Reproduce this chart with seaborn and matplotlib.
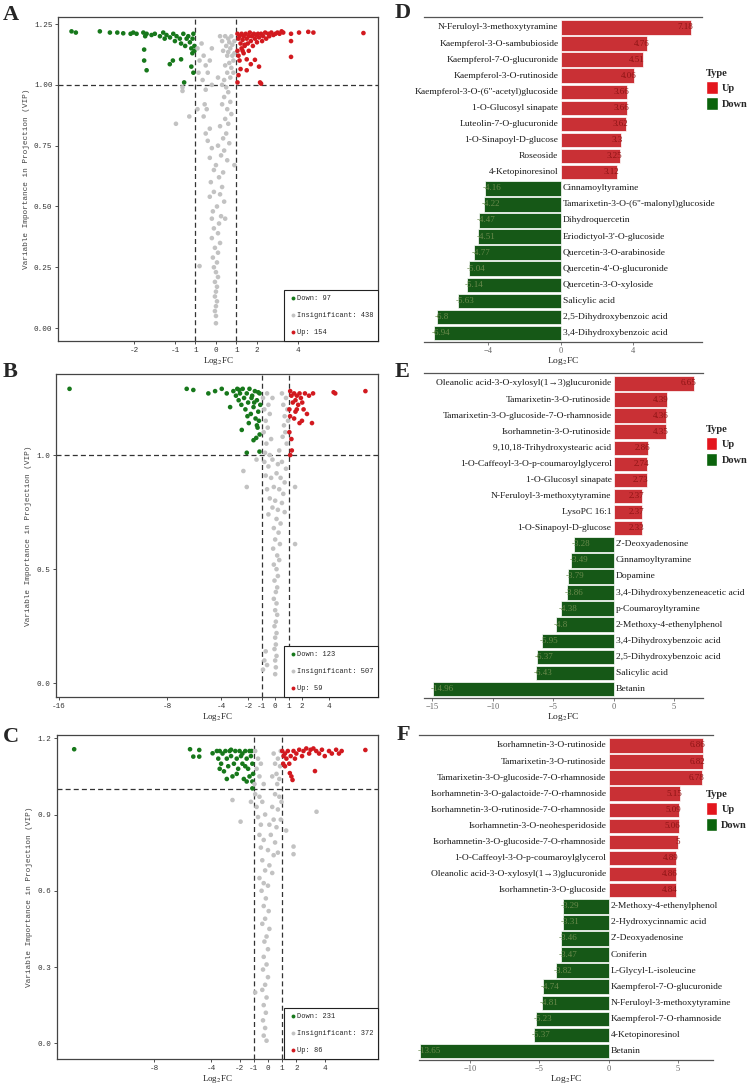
import numpy as np
import pandas as pd
import seaborn as sns
import matplotlib.pyplot as plt
from matplotlib.lines import Line2D
from matplotlib.patches import Patch

# ---------------- volcano data (log2FC, VIP) ----------------
a_down = [(-7.04, 1.22), (-6.83, 1.215), (-5.66, 1.22), (-5.17, 1.215), (-4.81, 1.215), (-4.52, 1.212),
          (-4.16, 1.21), (-4.03, 1.215), (-3.87, 1.21), (-3.54, 1.215), (-3.45, 1.2), (-3.38, 1.21),
          (-3.14, 1.205), (-2.98, 1.21), (-2.73, 1.2), (-2.57, 1.215), (-2.5, 1.19), (-2.41, 1.205),
          (-2.24, 1.195), (-2.08, 1.21), (-2.0, 1.18), (-1.92, 1.2), (-1.76, 1.19), (-1.7, 1.17),
          (-1.59, 1.21), (-1.5, 1.16), (-1.43, 1.19), (-1.35, 1.2), (-1.27, 1.175), (-1.2, 1.15),
          (-1.14, 1.19), (-1.1, 1.21), (-1.05, 1.16), (-3.5, 1.145), (-3.5, 1.1), (-3.38, 1.06),
          (-2.25, 1.085), (-2.1, 1.10), (-1.7, 1.105), (-1.2, 1.075), (-1.1, 1.05), (-1.55, 1.01),
          (-1.05, 1.14), (-1.15, 1.13)]
a_insig = [(-0.9, 1.15), (-0.8, 1.1), (-0.85, 1.05), (-0.7, 1.17), (-0.6, 1.12), (-0.5, 1.08), (-0.65, 1.02),
           (-0.4, 1.05), (-0.3, 1.1), (-0.2, 1.15), (0.2, 1.2), (0.3, 1.18), (0.35, 1.14), (0.45, 1.2),
           (0.5, 1.16), (0.55, 1.12), (0.6, 1.19), (0.65, 1.09), (0.7, 1.15), (0.75, 1.2), (0.8, 1.12),
           (0.85, 1.05), (0.9, 1.18), (0.55, 1.05), (0.45, 1.08), (0.7, 1.03), (0.8, 1.165), (0.6, 1.135),
           (0.85, 1.1), (0.4, 1.02), (0.75, 1.07), (0.9, 1.13), (0.65, 1.175), (-0.2, 1.0), (0.1, 1.03),
           (0.3, 1.0), (0.5, 0.99), (-0.5, 0.98), (-1.63, 0.99), (-1.63, 0.975),
           (0.6, 0.97), (0.4, 0.95), (0.7, 0.93), (0.3, 0.92), (0.55, 0.9), (-0.55, 0.92), (-0.45, 0.9),
           (-0.6, 0.87), (0.75, 0.88), (0.45, 0.86), (0.6, 0.84), (0.2, 0.83), (-0.3, 0.82), (-0.5, 0.8),
           (0.5, 0.8), (0.35, 0.78), (-0.4, 0.77), (0.65, 0.76), (0.1, 0.75), (-0.2, 0.74), (0.4, 0.73),
           (0.9, 0.67), (0.25, 0.71), (-0.3, 0.7), (0.55, 0.69), (0.0, 0.67), (-0.1, 0.65), (0.35, 0.64),
           (0.15, 0.62), (-0.25, 0.6), (0.3, 0.58), (-0.1, 0.56), (0.2, 0.55), (-0.3, 0.54), (0.4, 0.52),
           (0.05, 0.5), (-0.15, 0.48), (0.25, 0.46), (-0.2, 0.45), (0.15, 0.43), (0.45, 0.45), (-0.1, 0.41),
           (0.1, 0.39), (-0.2, 0.37), (0.2, 0.35), (-0.05, 0.33), (0.1, 0.31), (-0.15, 0.29), (0.05, 0.27),
           (-0.1, 0.25), (0.0, 0.23), (0.1, 0.21), (-0.05, 0.19), (0.05, 0.17), (0.0, 0.15), (-0.05, 0.13),
           (0.05, 0.11), (0.0, 0.09), (-0.05, 0.07), (0.0, 0.05), (0.0, 0.02), (-0.8, 0.255), (-1.95, 0.84),
           (-1.3, 0.87), (-0.9, 0.9)]
a_up = [(1.05, 1.21), (1.1, 1.19), (1.15, 1.2), (1.2, 1.17), (1.25, 1.21), (1.3, 1.185), (1.35, 1.2),
        (1.4, 1.16), (1.45, 1.21), (1.5, 1.19), (1.55, 1.17), (1.6, 1.2), (1.65, 1.215), (1.7, 1.18),
        (1.75, 1.2), (1.8, 1.16), (1.85, 1.21), (1.9, 1.19), (1.95, 1.205), (2.0, 1.175), (2.05, 1.21),
        (2.1, 1.195), (2.2, 1.21), (2.25, 1.18), (2.3, 1.2), (2.4, 1.215), (2.45, 1.19), (2.55, 1.21),
        (2.6, 1.2), (2.7, 1.215), (2.8, 1.205), (2.9, 1.21), (3.0, 1.215), (3.1, 1.21), (3.2, 1.22),
        (3.28, 1.215), (3.66, 1.21), (4.05, 1.215), (4.5, 1.218), (4.75, 1.215), (7.19, 1.213),
        (3.66, 1.18), (3.66, 1.115), (1.05, 1.14), (1.1, 1.12), (1.15, 1.10), (1.25, 1.15), (1.35, 1.13),
        (1.5, 1.105), (1.6, 1.14), (1.9, 1.103), (1.7, 1.085), (1.5, 1.06), (1.2, 1.065), (1.1, 1.04),
        (2.1, 1.075), (1.05, 1.01), (2.15, 1.01), (2.2, 1.005), (1.4, 1.165), (1.3, 1.14)]

b_down = [(-15.2, 1.29), (-6.54, 1.29), (-6.05, 1.285), (-4.94, 1.27), (-4.44, 1.28), (-3.95, 1.29),
          (-3.58, 1.27), (-3.33, 1.21), (-3.09, 1.28), (-2.9, 1.26), (-2.8, 1.29), (-2.7, 1.24), (-2.6, 1.27),
          (-2.5, 1.22), (-2.4, 1.29), (-2.3, 1.25), (-2.2, 1.2), (-2.1, 1.27), (-2.0, 1.23), (-1.9, 1.29),
          (-1.8, 1.18), (-1.75, 1.25), (-1.6, 1.21), (-1.5, 1.28), (-1.45, 1.16), (-1.35, 1.24), (-1.25, 1.19),
          (-1.15, 1.27), (-1.1, 1.22), (-1.2, 1.15), (-1.3, 1.12), (-1.15, 1.09), (-1.7, 1.26), (-2.05, 1.17),
          (-1.95, 1.14), (-2.47, 1.11), (-2.1, 1.01), (-1.6, 1.065), (-1.4, 1.075), (-1.16, 1.015),
          (-1.35, 1.13), (-1.55, 1.23), (-2.65, 1.285), (-1.25, 1.275)]
b_insig = [(-0.9, 1.25), (-0.8, 1.2), (-0.7, 1.15), (-0.85, 1.1), (-0.6, 1.27), (-0.5, 1.22), (-0.55, 1.12),
           (-0.4, 1.18), (-0.3, 1.07), (-0.2, 1.25), (0.5, 1.27), (0.6, 1.22), (0.7, 1.17), (0.8, 1.25),
           (0.9, 1.2), (0.75, 1.1), (0.85, 1.05), (0.65, 1.13), (0.55, 1.08), (0.95, 1.15), (-0.65, 1.05),
           (-0.75, 1.01), (0.3, 1.02), (-0.4, 1.0),
           (-0.8, 0.97), (-0.5, 0.95), (-0.2, 0.98), (0.2, 0.96), (0.5, 0.97), (0.8, 0.94), (-0.7, 0.91),
           (-0.3, 0.9), (0.1, 0.92), (0.4, 0.9), (0.7, 0.88), (-0.6, 0.85), (-0.1, 0.86), (0.3, 0.85),
           (0.6, 0.83), (-0.4, 0.81), (0.0, 0.8), (0.5, 0.79), (-0.2, 0.77), (0.2, 0.76), (0.7, 0.75),
           (-0.5, 0.74), (0.1, 0.72), (0.4, 0.7), (-0.1, 0.68), (0.25, 0.66), (0.0, 0.63), (0.35, 0.61),
           (-0.15, 0.59), (0.15, 0.56), (0.3, 0.54), (-0.1, 0.52), (0.1, 0.5), (0.2, 0.47), (-0.05, 0.45),
           (0.15, 0.42), (0.05, 0.4), (-0.1, 0.37), (0.1, 0.35), (0.0, 0.32), (0.15, 0.3), (0.05, 0.27),
           (-0.05, 0.25), (0.1, 0.22), (0.0, 0.2), (0.05, 0.17), (-0.05, 0.15), (0.1, 0.12), (0.0, 0.1),
           (0.05, 0.07), (0.0, 0.04), (-0.7, 0.14), (-0.8, 0.1), (-0.6, 0.08), (-0.9, 0.06),
           (-2.35, 0.93), (-2.1, 0.86), (1.47, 0.86), (1.47, 0.61), (-1.38, 0.98)]
b_up = [(1.11, 1.28), (1.2, 1.26), (1.3, 1.23), (1.4, 1.27), (1.5, 1.24), (1.6, 1.26), (1.7, 1.22),
        (1.8, 1.27), (1.9, 1.25), (2.0, 1.23), (2.2, 1.27), (2.5, 1.26), (2.8, 1.27), (4.32, 1.275),
        (4.44, 1.27), (6.67, 1.28), (2.72, 1.14), (2.35, 1.18), (1.98, 1.15), (1.23, 1.02), (1.11, 1.0),
        (1.05, 1.2), (1.1, 1.17), (1.4, 1.16), (1.6, 1.2), (1.05, 1.1), (1.8, 1.14), (1.2, 1.07),
        (1.5, 1.19), (2.1, 1.2)]

c_down = [(-13.65, 1.157), (-5.49, 1.157), (-4.84, 1.154), (-5.26, 1.128), (-4.84, 1.128), (-3.9, 1.141),
          (-3.6, 1.15), (-3.5, 1.12), (-3.4, 1.15), (-3.3, 1.1), (-3.2, 1.14), (-3.1, 1.07), (-3.0, 1.15),
          (-2.9, 1.12), (-2.8, 1.09), (-2.7, 1.15), (-2.6, 1.13), (-2.5, 1.05), (-2.4, 1.1), (-2.3, 1.15),
          (-2.2, 1.12), (-2.1, 1.08), (-2.0, 1.15), (-1.9, 1.13), (-1.8, 1.1), (-1.7, 1.04), (-1.6, 1.15),
          (-1.5, 1.12), (-1.4, 1.08), (-1.3, 1.15), (-1.2, 1.13), (-1.1, 1.1), (-1.05, 1.06), (-1.1, 1.03),
          (-1.5, 1.03), (-2.9, 1.04), (-3.4, 1.08), (-1.1, 1.003), (-2.2, 1.06), (-1.8, 1.14), (-1.3, 1.05),
          (-1.6, 1.09), (-2.6, 1.155), (-1.15, 1.15)]
c_insig = [(-0.9, 1.15), (-0.7, 1.12), (-0.8, 1.08), (-0.5, 1.1), (-0.6, 1.05), (-0.3, 1.02), (-0.95, 1.02),
           (0.4, 1.14), (0.5, 1.1), (0.6, 1.06), (0.7, 1.12), (0.8, 1.04), (0.9, 1.15), (0.85, 1.09),
           (0.65, 1.02), (0.3, 1.05),
           (-0.9, 0.98), (-0.6, 0.97), (0.5, 0.98), (0.8, 0.97), (0.95, 0.95), (-0.8, 0.93), (-0.4, 0.95),
           (0.3, 0.93), (0.7, 0.92), (-0.7, 0.89), (-0.2, 0.9), (0.4, 0.88), (0.9, 0.88), (-0.5, 0.86),
           (0.1, 0.86), (0.6, 0.85), (-0.6, 0.82), (-0.3, 0.8), (0.2, 0.82), (0.5, 0.79), (-0.5, 0.77),
           (0.0, 0.76), (0.4, 0.74), (0.7, 0.75), (-0.4, 0.72), (0.1, 0.7), (-0.2, 0.68), (0.3, 0.67),
           (-0.6, 0.65), (-0.3, 0.63), (0.0, 0.62), (-0.45, 0.6), (-0.15, 0.57), (-0.3, 0.54), (0.05, 0.52),
           (-0.2, 0.49), (-0.4, 0.47), (0.1, 0.45), (-0.1, 0.42), (-0.25, 0.4), (0.0, 0.37), (-0.3, 0.34),
           (-0.1, 0.31), (-0.35, 0.29), (0.0, 0.26), (-0.2, 0.23), (-0.4, 0.21), (-0.1, 0.18), (-0.3, 0.15),
           (-0.15, 0.12), (-0.35, 0.09), (-0.2, 0.06), (-0.3, 0.03), (-0.1, 0.01), (-0.9, 0.2),
           (-2.5, 0.957), (-1.93, 0.872), (3.42, 0.911), (1.8, 0.774), (1.8, 0.744), (1.28, 0.837), (-1.2, 0.95)]
c_up = [(1.0, 1.15), (1.1, 1.13), (1.07, 1.10), (1.2, 1.14), (1.3, 1.12), (1.4, 1.15), (1.54, 1.063),
        (1.6, 1.13), (1.73, 1.036), (1.8, 1.15), (1.9, 1.12), (2.0, 1.14), (2.2, 1.155), (2.4, 1.13),
        (2.5, 1.15), (2.7, 1.16), (2.9, 1.14), (3.0, 1.155), (3.2, 1.16), (3.31, 1.071), (3.4, 1.15),
        (3.6, 1.14), (3.8, 1.155), (4.0, 1.13), (4.3, 1.15), (4.5, 1.14), (4.8, 1.155), (5.0, 1.14),
        (5.19, 1.15), (6.86, 1.154), (1.2, 1.09), (1.5, 1.1), (1.65, 1.05)]

a_counts = [97, 438, 154]
b_counts = [123, 507, 59]
c_counts = [231, 372, 86]

# ---------------- top differential metabolites ----------------
d_names = ["N-Feruloyl-3-methoxytyramine", "Kaempferol-3-O-sambubioside", "Kaempferol-7-O-glucuronide",
           "Kaempferol-3-O-rutinoside", 'Kaempferol-3-O-(6"-acetyl)glucoside', "1-O-Glucosyl sinapate",
           "Luteolin-7-O-glucuronide", "1-O-Sinapoyl-D-glucose", "Roseoside", "4-Ketopinoresinol",
           "Cinnamoyltyramine", 'Tamarixetin-3-O-(6"-malonyl)glucoside', "Dihydroquercetin",
           "Eriodictyol-3'-O-glucoside", "Quercetin-3-O-arabinoside", "Quercetin-4'-O-glucuronide",
           "Quercetin-3-O-xyloside", "Salicylic acid", "2,5-Dihydroxybenzoic acid", "3,4-Dihydroxybenzoic acid"]
d_fc = [7.18, 4.76, 4.51, 4.06, 3.66, 3.66, 3.62, 3.3, 3.25, 3.12,
        -4.16, -4.22, -4.47, -4.51, -4.77, -5.04, -5.14, -5.63, -6.8, -6.94]

e_names = ["Oleanolic acid-3-O-xylosyl(1→3)glucuronide", "Tamarixetin-3-O-rutinoside",
           "Tamarixetin-3-O-glucoside-7-O-rhamnoside", "Isorhamnetin-3-O-rutinoside",
           "9,10,18-Trihydroxystearic acid", "1-O-Caffeoyl-3-O-p-coumaroylglycerol", "1-O-Glucosyl sinapate",
           "N-Feruloyl-3-methoxytyramine", "LysoPC 16:1", "1-O-Sinapoyl-D-glucose",
           "2'-Deoxyadenosine", "Cinnamoyltyramine", "Dopamine", "3,4-Dihydroxybenzeneacetic acid",
           "p-Coumaroyltyramine", "2-Methoxy-4-ethenylphenol", "3,4-Dihydroxybenzoic acid",
           "2,5-Dihydroxybenzoic acid", "Salicylic acid", "Betanin"]
e_fc = [6.65, 4.39, 4.36, 4.35, 2.86, 2.74, 2.73, 2.37, 2.37, 2.33,
        -3.28, -3.49, -3.79, -3.86, -4.38, -4.8, -5.95, -6.37, -6.43, -14.96]

f_names = ["Isorhamnetin-3-O-rutinoside", "Tamarixetin-3-O-rutinoside",
           "Tamarixetin-3-O-glucoside-7-O-rhamnoside", "Isorhamnetin-3-O-galactoide-7-O-rhamnoside",
           "Isorhamnetin-3-O-rutinoside-7-O-rhamnoside", "Isorhamnetin-3-O-neohesperidoside",
           "Isorhamnetin-3-O-glucoside-7-O-rhamnoside", "1-O-Caffeoyl-3-O-p-coumaroylglycerol",
           "Oleanolic acid-3-O-xylosyl(1→3)glucuronide", "Isorhamnetin-3-O-glucoside",
           "2-Methoxy-4-ethenylphenol", "2-Hydroxycinnamic acid", "2'-Deoxyadenosine", "Coniferin",
           "L-Glycyl-L-isoleucine", "Kaempferol-7-O-glucuronide", "N-Feruloyl-3-methoxytyramine",
           "Kaempferol-7-O-rhamnoside", "4-Ketopinoresinol", "Betanin"]
f_fc = [6.86, 6.82, 6.78, 5.15, 5.09, 5.06, 5, 4.89, 4.86, 4.84,
        -3.29, -3.31, -3.46, -3.47, -3.82, -4.74, -4.81, -5.23, -5.37, -13.65]

# ---------------- style ----------------
sns.set_theme(style="white")
plt.rcParams["font.family"] = ["Liberation Serif", "DejaVu Serif"]
plt.rcParams["mathtext.fontset"] = "stix"

vpal = {"Down": "#17781b", "Insignificant": "#c2c2c2", "Up": "#d2191f"}
bpal = {"Up": "#e3161d", "Down": "#0b630c"}
val_color = {"Up": "#8e1414", "Down": "#6a8a4c"}
MONO = "Liberation Mono"

W, H = 749, 1084
fig = plt.figure(figsize=(W / 100, H / 100), dpi=100)


def rect(x0, y0, x1, y1):
    return [x0 / W, 1 - y1 / H, (x1 - x0) / W, (y1 - y0) / H]


def tag(letter, x, y):
    fig.text(x / W, 1 - y / H, letter, fontsize=16, fontweight="bold", va="baseline", ha="left")


def volcano(box, down, insig, up, counts, xlim, ylim, xticks, xlabels, yticks, ylabels):
    ax = fig.add_axes(rect(*box))
    frames = []
    for name, pts in [("Down", down), ("Insignificant", insig), ("Up", up)]:
        arr = np.array(pts)
        frames.append(pd.DataFrame({"fc": arr[:, 0], "vip": arr[:, 1], "type": name}))
    df = pd.concat(frames, ignore_index=True)
    sns.scatterplot(data=df, x="fc", y="vip", hue="type", hue_order=["Down", "Insignificant", "Up"],
                    palette=vpal, s=11, linewidth=0, legend=False, ax=ax, zorder=3)
    dash = dict(color="#333333", lw=0.9, ls=(0, (4, 2.5)), zorder=2)
    ax.axhline(1, **dash)
    ax.axvline(-1, **dash)
    ax.axvline(1, **dash)
    ax.set_xlim(xlim)
    ax.set_ylim(ylim)
    ax.set_xticks(xticks)
    ax.set_xticklabels(xlabels)
    ax.set_yticks(yticks)
    ax.set_yticklabels(ylabels)
    for lab in ax.get_xticklabels() + ax.get_yticklabels():
        lab.set_fontfamily(MONO)
        lab.set_fontsize(5.5)
        lab.set_color("#333333")
    ax.tick_params(bottom=True, left=True, length=2.5, width=0.6, pad=1.5, color="#333333")
    ax.set_xlabel("Log$_2$FC", fontsize=6.5, labelpad=1, color="#222222")
    ax.set_ylabel("Variable Importance in Projection (VIP)", family=MONO, fontsize=5.6,
                  color="#444444", labelpad=3)
    for sp in ax.spines.values():
        sp.set_color("#444444")
        sp.set_linewidth(0.9)
    handles = [Line2D([], [], marker="o", ls="", markersize=2.8, markeredgewidth=0, color=vpal[k])
               for k in ["Down", "Insignificant", "Up"]]
    labels = [f"Down: {counts[0]}", f"Insignificant: {counts[1]}", f"Up: {counts[2]}"]
    leg = ax.legend(handles, labels, loc="lower right", borderaxespad=0, fancybox=False,
                    edgecolor="#222222", framealpha=1, prop={"family": MONO, "size": 5},
                    labelspacing=1.45, handletextpad=0.0, handlelength=1.1, borderpad=0.7)
    leg.get_frame().set_linewidth(0.8)
    return ax


def bar_panel(box, names, values, xlim, xticks, leg_anchor):
    ax = fig.add_axes(rect(*box))
    df = pd.DataFrame({"name": names, "fc": values,
                       "Type": ["Up" if v > 0 else "Down" for v in values]})
    sns.barplot(data=df, x="fc", y="name", hue="Type", hue_order=["Up", "Down"], palette=bpal,
                dodge=False, width=0.9, edgecolor="white", linewidth=0.5, orient="h",
                legend=False, ax=ax)
    ax.set_ylim(19.56, -0.65)
    ax.set_xlim(xlim)
    ax.set_yticks([])
    ax.set_ylabel("")
    ax.set_xticks(xticks)
    ax.tick_params(axis="x", bottom=True, length=2.5, width=0.6, colors="#666666", labelsize=6, pad=1)
    ax.set_xlabel("Log$_2$FC", fontsize=6.8, labelpad=0, color="#222222")
    ax.spines["left"].set_visible(False)
    ax.spines["right"].set_visible(False)
    for s in ["top", "bottom"]:
        ax.spines[s].set_color("#555555")
        ax.spines[s].set_linewidth(0.9)
    for i, (n, v) in enumerate(zip(names, values)):
        kind = "Up" if v > 0 else "Down"
        side = -1 if v > 0 else 1
        ha = "right" if v > 0 else "left"
        ax.annotate(n, (0, i), xytext=(1.5 * side, 0), textcoords="offset points",
                    ha=ha, va="center", fontsize=6.8, color="#1a1a1a")
        ax.annotate(f"{v:g}", (v, i), xytext=(-1.5 * side, 0), textcoords="offset points",
                    ha="left" if v < 0 else "right", va="center", fontsize=6.5,
                    color=val_color[kind])
    handles = [Patch(facecolor=bpal["Up"]), Patch(facecolor=bpal["Down"])]
    ax.legend(handles, ["Up", "Down"], title="Type", loc="upper left", bbox_to_anchor=leg_anchor,
              frameon=False, prop={"weight": "bold", "size": 7.5},
              title_fontproperties={"weight": "bold", "size": 7.5}, alignment="left",
              handlelength=1.1, handleheight=1.5, handletextpad=0.4, labelspacing=0.3,
              borderpad=0, borderaxespad=0)
    return ax


volcano((58, 17, 378, 341), a_down, a_insig, a_up, a_counts, (-7.7, 7.9), (-0.053, 1.279),
        [-4, -2, -1, 0, 1, 2, 4], ["-2", "-1", "1", "0", "1", "2", "4"],
        [0, 0.25, 0.5, 0.75, 1.0, 1.25], ["0.00", "0.25", "0.50", "0.75", "1.00", "1.25"])
volcano((56, 374, 378, 697), b_down, b_insig, b_up, b_counts, (-16.2, 7.6), (-0.06, 1.355),
        [-16, -8, -4, -2, -1, 0, 1, 2, 4], ["-16", "-8", "-4", "-2", "-1", "0", "1", "2", "4"],
        [0, 0.5, 1.0], ["0.0", "0.5", "1.0"])
volcano((57, 735, 378, 1059), c_down, c_insig, c_up, c_counts, (-14.86, 7.75), (-0.062, 1.213),
        [-8, -4, -2, -1, 0, 1, 2, 4], ["-8", "-4", "-2", "-1", "0", "1", "2", "4"],
        [0, 0.3, 0.6, 0.9, 1.2], ["0.0", "0.3", "0.6", "0.9", "1.2"])

bar_panel((424, 17, 702, 342), d_names, d_fc, (-7.5, 7.77), [-4, 0, 4], (1.015, 0.84))
bar_panel((424, 373, 703, 698), e_names, e_fc, (-15.7, 7.4), [-15, -10, -5, 0, 5], (1.01, 0.84))
bar_panel((419, 735, 713, 1060), f_names, f_fc, (-13.7, 7.55), [-10, -5, 0, 5], (0.975, 0.83))

tag("A", 3, 20)
tag("B", 3, 377)
tag("C", 3, 742)
tag("D", 395, 18)
tag("E", 395, 377)
tag("F", 397, 740)

fig.savefig("out.png", dpi=100)
